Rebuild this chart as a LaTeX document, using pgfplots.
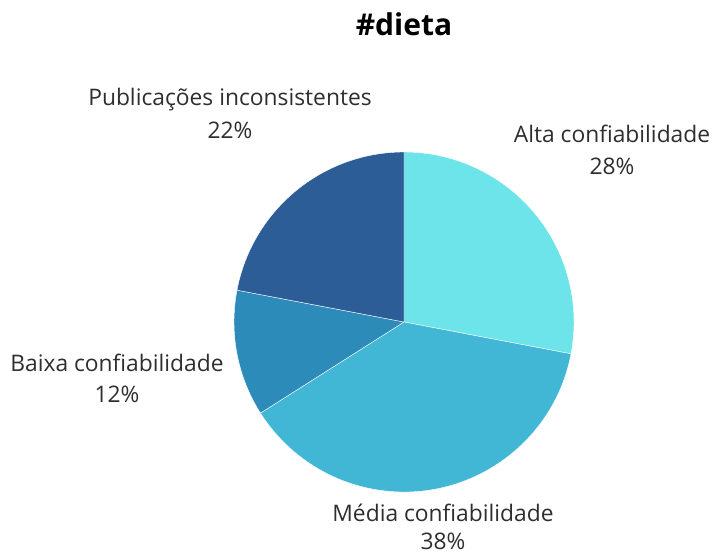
\documentclass[border=0pt]{standalone}
\usepackage{fontspec}
\setmainfont{Open Sans}
\usepackage{pgfplots}
\pgfplotsset{compat=1.18}
\definecolor{cA}{HTML}{6CE4E9}
\definecolor{cB}{HTML}{41B6D5}
\definecolor{cC}{HTML}{2C8BB9}
\definecolor{cD}{HTML}{2D5D96}
\definecolor{txt}{HTML}{2E2E2E}
% values (percent), clockwise from 12 o'clock
\def\vA{28}\def\vB{38}\def\vC{12}\def\vD{22}
\pgfmathsetmacro\aA{90}
\pgfmathsetmacro\aB{\aA-3.6*\vA}
\pgfmathsetmacro\aC{\aB-3.6*\vB}
\pgfmathsetmacro\aD{\aC-3.6*\vC}
\pgfmathsetmacro\aE{\aD-3.6*\vD}
\def\R{127.5pt}
\begin{document}
\begin{tikzpicture}
\begin{axis}[
  width=534pt, height=417pt, scale only axis,
  xmin=0, xmax=712, ymin=0, ymax=556,
  hide axis, clip=false,
]
\fill[cA, draw=white, line width=0.3pt] (axis cs:404,234) -- ++(\aA:\R) arc[start angle=\aA, end angle=\aB, radius=\R] -- cycle;
\fill[cB, draw=white, line width=0.3pt] (axis cs:404,234) -- ++(\aB:\R) arc[start angle=\aB, end angle=\aC, radius=\R] -- cycle;
\fill[cC, draw=white, line width=0.3pt] (axis cs:404,234) -- ++(\aC:\R) arc[start angle=\aC, end angle=\aD, radius=\R] -- cycle;
\fill[cD, draw=white, line width=0.3pt] (axis cs:404,234) -- ++(\aD:\R) arc[start angle=\aD, end angle=\aE, radius=\R] -- cycle;
\begin{scope}[every node/.style={anchor=base, inner sep=0pt, text=txt, font=\fontsize{17.1}{20}\selectfont}]
\node at (axis cs:404,520) {\fontsize{22.5}{27}\selectfont\bfseries\color{black}\#dieta};
\node at (axis cs:230,450) {Publicações inconsistentes};
\node at (axis cs:230,417) {\vD\%};
\node at (axis cs:612,413) {Alta confiabilidade};
\node at (axis cs:612,381) {\vA\%};
\node at (axis cs:117,184) {Baixa confiabilidade};
\node at (axis cs:117,153) {\vC\%};
\node at (axis cs:443,35) {Média confiabilidade};
\node at (axis cs:443,7) {\vB\%};
\end{scope}
\end{axis}
\pgfresetboundingbox
\path (current axis.south west) rectangle (current axis.north east);
\end{tikzpicture}
\end{document}
